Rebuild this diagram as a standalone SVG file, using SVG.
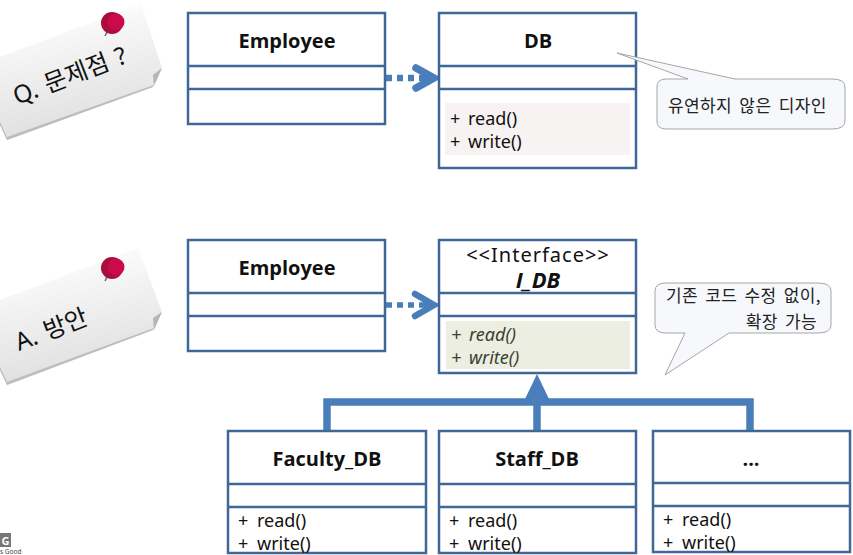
<svg xmlns="http://www.w3.org/2000/svg" width="853" height="555" viewBox="0 0 853 555">
<style>
text{font-family:"Noto Sans","Noto Sans CJK KR",sans-serif;fill:#111}
.box{fill:#fff;stroke:#3f6797;stroke-width:2.5}
.div{stroke:#3f6797;stroke-width:2.5;fill:none}
.title{font-size:20px;font-weight:700;text-anchor:middle;font-family:"Open Sans","Noto Sans CJK KR",sans-serif}
.op{font-size:18px}
.call{fill:#f6f8fc;stroke:#a6a6a6;stroke-width:1}
.callt{font-size:17px;font-family:"Noto Sans CJK KR",sans-serif;fill:#222;letter-spacing:.4px;word-spacing:3px}
.link{fill:none;stroke:#4a7ebb}
.pin1{fill:#a80f3c}.pin2{fill:#cc0a4a}
.note-t{font-size:24.5px;word-spacing:2px}
</style>
<defs>
<linearGradient id="note" x1="0.35" y1="0" x2="0.6" y2="1"><stop offset="0" stop-color="#fff"/><stop offset="1" stop-color="#dcdcdc"/></linearGradient>
</defs>
<g id="note-q">
<path d="M0 125L7 140L153 87L162 68L141 4L0 57Z" fill="url(#note)"/>
<path d="M0 125L7 140L153 87L154 85L7 137L0 122Z" fill="#bdbdbd"/>
<path d="M153 75L162 68L154 86Z" fill="#b5b5b5"/>
<line x1="105" y1="36" x2="109" y2="28" stroke="#666" stroke-width="1.5"/>
<circle class="pin1" cx="112" cy="23" r="11"/><circle class="pin2" cx="116" cy="22" r="8.5"/>
<text class="note-t" transform="translate(17 105) rotate(-21)">Q. 문제점 ?</text>
</g>
<g id="note-a">
<path d="M0 370L7 385L153 330L162 312L138 248L0 300Z" fill="url(#note)"/>
<path d="M0 370L7 385L153 330L154 328L7 382L0 367Z" fill="#bdbdbd"/>
<path d="M153 318L162 312L154 330Z" fill="#b5b5b5"/>
<line x1="105" y1="281" x2="109" y2="273" stroke="#666" stroke-width="1.5"/>
<circle class="pin1" cx="112" cy="268" r="11"/><circle class="pin2" cx="116" cy="267" r="8.5"/>
<text class="note-t" transform="translate(19 351) rotate(-21)">A. 방안</text>
</g>
<g id="connectors">
<line class="link" x1="386" y1="78" x2="430" y2="78" stroke-width="6.5" stroke-dasharray="6 5"/>
<path class="link" d="M416 68L434 78L416 88" stroke-width="7.5" stroke-linecap="round"/>
<path d="M425 72L439 78L425 84Z" fill="#4a7ebb"/>
<line class="link" x1="386" y1="305" x2="430" y2="305" stroke-width="5.5" stroke-dasharray="6 5"/>
<path class="link" d="M415 294L434 305L415 316" stroke-width="6.5" stroke-linecap="round"/>
<path d="M425 299L439 305L425 311Z" fill="#4a7ebb"/>
<path class="link" d="M327 431V402H750V431M537 431V402" stroke-width="7.5"/>
<path d="M537 374L525 399H549Z" fill="#4a7ebb"/>
</g>
<g id="employee-1">
<rect class="box" x="188" y="13" width="197" height="111"/><path class="div" d="M188 66H385M188 89H385"/>
<text class="title" x="287" y="48">Employee</text>
</g>
<g id="db">
<rect class="box" x="439" y="13" width="197" height="155"/><path class="div" d="M439 66H636M439 89H636"/>
<rect x="445" y="103" width="185" height="52" fill="#f8f3f3"/>
<text class="title" x="538" y="48">DB</text>
<text class="op" x="450" y="125">+<tspan x="468">read()</tspan></text><text class="op" x="450" y="148">+<tspan x="468">write()</tspan></text>
</g>
<g id="callout-1">
<path class="call" d="M688 79L617 53L735 79H832Q845 79 845 87V121Q845 129 832 129H666Q657 129 657 121V87Q657 79 666 79Z"/>
<text class="callt" x="668" y="112">유연하지 않은 디자인</text>
</g>
<g id="employee-2">
<rect class="box" x="188" y="240" width="197" height="111"/><path class="div" d="M188 293H385M188 316H385"/>
<text class="title" x="287" y="275">Employee</text>
</g>
<g id="i-db">
<rect class="box" x="439" y="240" width="197" height="133"/><path class="div" d="M439 293H636M439 316H636"/>
<rect x="446" y="321" width="184" height="48" fill="#ebeee0"/>
<text x="538" y="262" font-size="20" text-anchor="middle" letter-spacing="1">&lt;&lt;Interface&gt;&gt;</text>
<text class="title" x="538" y="288" font-style="italic" style="font-size:22px">I_DB</text>
<text class="op" x="451" y="341" font-style="italic" style="fill:#3a3f30">+<tspan x="469">read()</tspan></text><text class="op" x="451" y="364" font-style="italic" style="fill:#3a3f30">+<tspan x="469">write()</tspan></text>
</g>
<g id="callout-2">
<path class="call" d="M685 333L665 375L729 333H818Q831 333 831 325V291Q831 283 818 283H666Q655 283 655 291V325Q655 333 666 333Z"/>
<text class="callt" x="821" y="302" text-anchor="end">기존 코드 수정 없이,</text>
<text class="callt" x="817" y="328" text-anchor="end">확장 가능</text>
</g>
<g id="faculty-db">
<rect class="box" x="228" y="431" width="198" height="122"/><path class="div" d="M228 484H426M228 507H426"/>
<text class="title" x="327" y="466">Faculty_DB</text>
<text class="op" x="238" y="527">+<tspan x="257">read()</tspan></text><text class="op" x="238" y="550">+<tspan x="257">write()</tspan></text>
</g>
<g id="staff-db">
<rect class="box" x="439" y="431" width="197" height="122"/><path class="div" d="M439 484H636M439 507H636"/>
<text class="title" x="537" y="466">Staff_DB</text>
<text class="op" x="449" y="527">+<tspan x="468">read()</tspan></text><text class="op" x="449" y="550">+<tspan x="468">write()</tspan></text>
</g>
<g id="more-db">
<rect class="box" x="653" y="431" width="197" height="121"/><path class="div" d="M653 483H850M653 506H850"/>
<text class="title" x="751" y="466">...</text>
<text class="op" x="663" y="526">+<tspan x="682">read()</tspan></text><text class="op" x="663" y="549">+<tspan x="682">write()</tspan></text>
</g>
<g id="logo">
<rect x="0" y="533" width="11" height="14" fill="#777"/>
<text x="1.5" y="545" font-size="11" font-weight="700" style="fill:#fff">G</text>
<text x="0" y="554" font-size="6.5" style="fill:#444">s Good</text>
</g>
</svg>
